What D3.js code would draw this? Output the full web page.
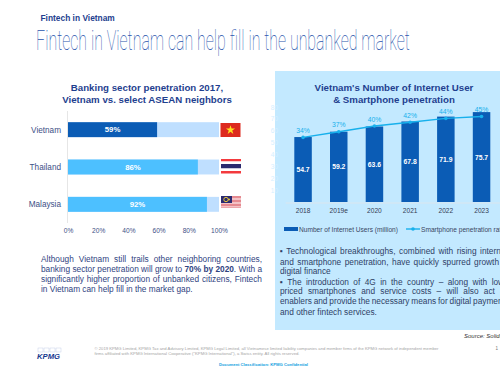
<!DOCTYPE html>
<html>
<head>
<meta charset="utf-8">
<script src="https://cdn.jsdelivr.net/npm/d3@7/dist/d3.min.js"></script>
<style>
  html, body { margin: 0; padding: 0; background: #fff; overflow: hidden; }
  svg { display: block; font-family: "Liberation Sans", Arial, sans-serif; }
</style>
</head>
<body>
<div id="chart"></div>
<script>
// banking penetration chart
var countries = ["Vietnam", "Thailand", "Malaysia"];
var penetration = [59, 86, 92];
var pctTicks = [0, 20, 40, 60, 80, 100];

// internet users chart
var years = ["2018", "2019e", "2020", "2021", "2022", "2023"];
var internetUsers = [54.7, 59.2, 63.6, 67.8, 71.9, 75.7];
var smartphoneRate = [34, 37, 40, 42, 44, 45];
var userTicks = [10, 20, 30, 40, 50, 60, 70, 80];

var leftLines = [
  [{t: "Although Vietnam still trails other neighboring countries,"}],
  [{t: "banking sector penetration will grow to "}, {t: "70% by 2020", b: 1}, {t: ". With a"}],
  [{t: "significantly higher proportion of unbanked citizens, Fintech"}],
  [{t: "in Vietnam can help fill in the market gap."}]
];
var leftJustify = [1, 1, 1, 0];

var rightLines = [
  "▪  Technological breakthroughs, combined with rising internet",
  "and smartphone penetration, have quickly spurred growth in",
  "digital finance",
  "▪  The introduction of 4G in the country – along with low-",
  "priced smartphones and service costs – will also act as",
  "enablers and provide the necessary means for digital payments",
  "and other fintech services."
];
var rightLineY = [254, 264.5, 274, 284.5, 294, 304, 314.5];
var rightJustify = [1, 1, 0, 1, 1, 1, 0];

var navy = "#1f3f8f", textBlue = "#3d4f86", dark = "#0b5cb5", sky = "#4dc0ff", pale = "#bfdfff", panel = "#c3e9ff", lineBlue = "#17b0ec";

var svg = d3.select("#chart").append("svg").attr("width", 500).attr("height", 375);

// stretch the spaces so a line fills the width, like justified text
function justify(sel, width) {
  sel.each(function() {
    var len = this.getComputedTextLength();
    var gaps = this.textContent.split(" ").length - 1;
    d3.select(this).attr("word-spacing", (width - len) / gaps);
  });
}

// header
svg.append("text").attr("x", 40.5).attr("y", 21).attr("font-size", 8.4).attr("font-weight", "bold")
  .attr("fill", navy).text("Fintech in Vietnam");
var headline = svg.append("text").attr("font-family", "Roboto").attr("font-weight", 100)
  .attr("font-size", 27).attr("fill", "#2a55ad")
  .text("Fintech in Vietnam can help fill in the unbanked market");
headline.attr("transform", "translate(36,50) scale(" + (374 / headline.node().getComputedTextLength()) + ",1)");

// left chart
var left = svg.append("g");
left.append("text").attr("text-anchor", "middle").attr("font-size", 9.7).attr("font-weight", "bold").attr("fill", navy)
  .selectAll("tspan").data(["Banking sector penetration 2017,", "Vietnam vs. select ASEAN neighbors"]).enter().append("tspan")
  .attr("x", 147).attr("y", (d, i) => 91 + i * 12).text(d => d);

var xPct = d3.scaleLinear().domain([0, 100]).range([68, 219]);
var yCountry = d3.scaleBand().domain(countries).range([111, 223]).paddingInner(0.6).paddingOuter(0.3);

var xAxis = left.append("g").attr("transform", "translate(0,223)")
  .call(d3.axisBottom(xPct).tickValues(pctTicks).tickFormat(d => d + "%").tickSize(0).tickPadding(5));
xAxis.select(".domain").remove();
xAxis.selectAll("text").attr("font-size", 6.6).attr("fill", textBlue).attr("font-family", "Liberation Sans");

left.append("line").attr("x1", 67.5).attr("x2", 67.5).attr("y1", 111).attr("y2", 223).attr("stroke", "#e6e6e6");

left.selectAll(".track").data(countries).enter().append("rect")
  .attr("x", xPct(0)).attr("y", d => yCountry(d)).attr("height", yCountry.bandwidth())
  .attr("width", xPct(100) - xPct(0)).attr("fill", pale);

left.selectAll(".bar").data(penetration).enter().append("rect")
  .attr("x", xPct(0)).attr("y", (d, i) => yCountry(countries[i])).attr("height", yCountry.bandwidth())
  .attr("width", d => xPct(d) - xPct(0)).attr("fill", (d, i) => i == 0 ? dark : sky);

left.selectAll(".val").data(penetration).enter().append("text")
  .attr("x", d => (xPct(d) + xPct(0)) / 2).attr("y", (d, i) => yCountry(countries[i]) + yCountry.bandwidth() / 2 + 2.7)
  .attr("text-anchor", "middle").attr("font-size", 7.8).attr("font-weight", "bold").attr("fill", "#fff")
  .text(d => d + "%");

left.selectAll(".cat").data(countries).enter().append("text")
  .attr("x", 61).attr("y", d => yCountry(d) + yCountry.bandwidth() / 2 + 3)
  .attr("text-anchor", "end").attr("font-size", 8.2).attr("fill", textBlue).text(d => d);

// flags
var vn = left.append("g").attr("transform", "translate(220.5,123)");
vn.append("rect").attr("width", 20).attr("height", 14).attr("fill", "#dd2a1e");
vn.append("path").attr("transform", "translate(10,7)").attr("d", d3.symbol(d3.symbolStar, 26)()).attr("fill", "#ffdf1f");

var th = left.append("g").attr("transform", "translate(221,159)");
[["#f33a3e", 0, 2.5], ["#fff", 2.5, 2.5], ["#2b2a6e", 5, 4.5], ["#fff", 9.5, 2.5], ["#f33a3e", 12, 2.5]].forEach(function(s) {
  th.append("rect").attr("y", s[1]).attr("width", 20).attr("height", s[2]).attr("fill", s[0]);
});

var my = left.append("g").attr("transform", "translate(221,196)");
my.append("rect").attr("width", 20).attr("height", 12).attr("fill", "#e58a90");
my.append("rect").attr("y", 2).attr("width", 20).attr("height", 2).attr("fill", "#f3c2c5");
my.append("rect").attr("y", 6).attr("width", 20).attr("height", 2).attr("fill", "#f3c2c5");
my.append("rect").attr("y", 10).attr("width", 20).attr("height", 1.5).attr("fill", "#f3c2c5");
my.append("rect").attr("width", 11).attr("height", 7).attr("fill", "#2a2a70");
my.append("circle").attr("cx", 5).attr("cy", 3.5).attr("r", 2.2).attr("fill", "none").attr("stroke", "#e8c53a").attr("stroke-width", 1);
my.append("circle").attr("cx", 8).attr("cy", 3.5).attr("r", 1).attr("fill", "#e8c53a");

// left paragraph
var leftText = svg.append("g").attr("font-size", 8.3).attr("fill", "#2f437f");
leftLines.forEach(function(parts, i) {
  var line = leftText.append("text").attr("x", 41).attr("y", 262 + i * 10.1);
  parts.forEach(function(p) {
    line.append("tspan").attr("font-weight", p.b ? "bold" : null).text(p.t);
  });
  if (leftJustify[i]) line.call(justify, 221);
});

// right panel
var right = svg.append("g");
right.append("rect").attr("x", 275).attr("y", 71).attr("width", 225).attr("height", 259).attr("fill", panel);
right.append("text").attr("text-anchor", "middle").attr("font-size", 9.7).attr("font-weight", "bold").attr("fill", navy)
  .selectAll("tspan").data(["Vietnam's Number of Internet User", "& Smartphone penetration"]).enter().append("tspan")
  .attr("x", 394).attr("y", (d, i) => 91 + i * 12).text(d => d);

var xYear = d3.scaleBand().domain(years).range([285.2, 499.4]).paddingInner(0.51).paddingOuter(0.255);
var yUsers = d3.scaleLinear().domain([0, 80]).range([202, 107]);
var yRate = d3.scaleLinear().domain([0, 50]).range([202, 107]);
var mid = d => xYear(d) + xYear.bandwidth() / 2;

// value axis is almost invisible on the panel
var yAxis = right.append("g").attr("transform", "translate(279,0)")
  .call(d3.axisLeft(yUsers).tickValues(userTicks).tickSize(0).tickPadding(1));
yAxis.select(".domain").remove();
yAxis.selectAll("text").attr("font-size", 6.5).attr("fill", "#d5efff").attr("font-family", "Liberation Sans");

var xAxis2 = right.append("g").attr("transform", "translate(0,202.5)")
  .call(d3.axisBottom(xYear).tickSize(0).tickPadding(6));
xAxis2.select(".domain").attr("stroke", "#dbe6ee");
xAxis2.selectAll("text").attr("font-size", 6.6).attr("fill", "#333c55").attr("font-family", "Liberation Sans");

right.selectAll(".ubar").data(internetUsers).enter().append("rect")
  .attr("x", (d, i) => xYear(years[i])).attr("width", xYear.bandwidth())
  .attr("y", d => yUsers(d)).attr("height", d => yUsers(0) - yUsers(d)).attr("fill", dark);

right.selectAll(".uval").data(internetUsers).enter().append("text")
  .attr("x", (d, i) => mid(years[i])).attr("y", d => (yUsers(d) + yUsers(0)) / 2 + 2.5)
  .attr("text-anchor", "middle").attr("font-size", 6.8).attr("font-weight", "bold").attr("fill", "#fff")
  .text(d => d.toFixed(1));

var rateLine = d3.line().x((d, i) => mid(years[i])).y(d => yRate(d));
right.append("path").attr("d", rateLine(smartphoneRate)).attr("fill", "none").attr("stroke", lineBlue).attr("stroke-width", 1.4);
right.selectAll(".dot").data(smartphoneRate).enter().append("circle")
  .attr("cx", (d, i) => mid(years[i])).attr("cy", d => yRate(d)).attr("r", 1.8).attr("fill", lineBlue);
right.selectAll(".rval").data(smartphoneRate).enter().append("text")
  .attr("x", (d, i) => mid(years[i])).attr("y", d => yRate(d) - 4.5)
  .attr("text-anchor", "middle").attr("font-size", 6.8).attr("fill", lineBlue).text(d => d + "%");

// legend
right.append("rect").attr("x", 284).attr("y", 227).attr("width", 14).attr("height", 4).attr("fill", dark);
right.append("text").attr("x", 299).attr("y", 231.5).attr("font-size", 6.6).attr("fill", "#3a4763").text("Number of Internet Users (million)");
right.append("line").attr("x1", 406).attr("x2", 420).attr("y1", 229).attr("y2", 229).attr("stroke", lineBlue).attr("stroke-width", 1.4);
right.append("circle").attr("cx", 413).attr("cy", 229).attr("r", 1.8).attr("fill", lineBlue);
right.append("text").attr("x", 421).attr("y", 231.5).attr("font-size", 6.6).attr("fill", "#3a4763").text("Smartphone penetration rate");

// right paragraph
right.append("g").attr("font-size", 8.3).attr("fill", "#2f3f66")
  .selectAll("text").data(rightLines).enter().append("text")
  .attr("x", 280).attr("y", (d, i) => rightLineY[i]).text(d => d)
  .filter((d, i) => rightJustify[i]).call(justify, 229);

// footer
svg.append("text").attr("x", 464).attr("y", 338).attr("font-size", 6).attr("font-style", "italic")
  .attr("fill", "#333").text("Source: Solidiance");

var foot = svg.append("g").attr("font-size", 3.9).attr("fill", "#a5a5a5");
foot.append("text").attr("x", 94.5).attr("y", 350).attr("textLength", 344).attr("lengthAdjust", "spacingAndGlyphs")
  .text("© 2019 KPMG Limited, KPMG Tax and Advisory Limited, KPMG Legal Limited, all Vietnamese limited liability companies and member firms of the KPMG network of independent member");
foot.append("text").attr("x", 94.5).attr("y", 355).attr("textLength", 205).attr("lengthAdjust", "spacingAndGlyphs")
  .text("firms affiliated with KPMG International Cooperative (\"KPMG International\"), a Swiss entity. All rights reserved.");
svg.append("text").attr("x", 498).attr("y", 350).attr("text-anchor", "end").attr("font-size", 4.5).attr("fill", "#777").text("1");
svg.append("text").attr("x", 219).attr("y", 365.5).attr("font-size", 4.1).attr("font-weight", "bold").attr("fill", "#12a0e0")
  .attr("textLength", 89).attr("lengthAdjust", "spacingAndGlyphs").text("Document Classification: KPMG Confidential");

// logo
var logo = svg.append("g");
logo.append("text").attr("x", 37).attr("y", 358.5).attr("font-size", 8).attr("font-weight", "bold").attr("font-style", "italic")
  .attr("fill", "#14378f").attr("textLength", 23).attr("lengthAdjust", "spacingAndGlyphs").text("KPMG");
[38, 44, 50, 56].forEach(function(x) {
  logo.append("rect").attr("x", x).attr("y", 348).attr("width", 5).attr("height", 4)
    .attr("fill", "none").attr("stroke", "#b9c6e3").attr("stroke-width", 0.4);
});
</script>
</body>
</html>
